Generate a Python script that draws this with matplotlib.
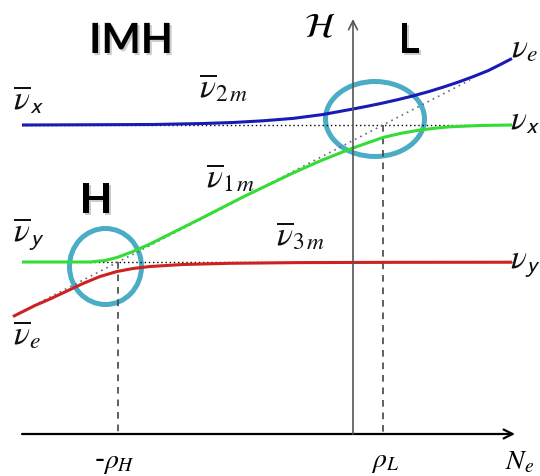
import matplotlib
matplotlib.use("Agg")
import matplotlib.pyplot as plt
import matplotlib.patheffects as pe
from matplotlib.patches import Ellipse

plt.rcParams["mathtext.fontset"] = "stix"

# Matter-potential axis (N_e) and Hamiltonian eigenvalues (arbitrary units)
nu2m_ne = [-331, -200, -150, -120, -90, -60, -30, 0, 15, 30, 45, 60, 75, 90,
           105, 120, 135, 147, 159]
nu2m_h = [309, 309.5, 310.5, 311.5, 313.2, 315.6, 319.5, 325, 327.9, 331, 334.4,
          338.1, 342.2, 346.8, 351.8, 357.3, 363.3, 369.3, 375.5]

nu1m_ne = [-331, -263, -248, -236, -220, -203, -186, -153, -110, -60, -33, -13, 0,
           17, 30, 47, 64, 82, 97, 127, 159]
nu1m_h = [172, 172, 173.5, 176.5, 182.5, 190, 198.5, 215, 237, 261, 273, 281, 286,
          292, 296.5, 300.5, 303.5, 305.8, 307.2, 308.5, 309]

nu3m_ne = [-340, -318, -303, -286, -270, -253, -236, -220, -203, -170, -123, -53, 47, 159]
nu3m_h = [117.5, 128.5, 135, 143, 150.5, 157.5, 162.5, 165.5, 167.5, 169.5, 170.7,
          171.4, 171.7, 171.8]

# Flavour (diabatic) levels
level_x = 309
level_y = 172
level_x_ne = [-331, 117]
level_y_ne = [-263, 159]
nue_ne = [-340, 117]
nue_h = [117.7, 354]

# Resonance densities
rho_H = -235
rho_L = 30

fig = plt.figure(figsize=(5.4, 4.77), dpi=100)
ax = fig.add_axes([0, 0, 1, 1])
ax.set_xlim(-353, 187)
ax.set_ylim(-42, 435)
ax.axis("off")

# axes with arrows
ax.annotate("", xy=(162, 0), xytext=(-331, 0),
            arrowprops=dict(arrowstyle="->", color="black", lw=1.6,
                            mutation_scale=16, shrinkA=0, shrinkB=0))
ax.annotate("", xy=(0, 415), xytext=(0, 0),
            arrowprops=dict(arrowstyle="->", color="#555555", lw=1.2,
                            mutation_scale=16, shrinkA=0, shrinkB=0))

# resonance markers
ax.plot([rho_H, rho_H], [level_y, 0], color="#444444", lw=1.2, ls=(0, (4, 3.5)))
ax.plot([rho_L, rho_L], [level_x, 0], color="#444444", lw=1.2, ls=(0, (4, 3.5)))

# flavour levels
ax.plot(level_x_ne, [level_x, level_x], color="black", lw=1.0, ls=(0, (1, 2)))
ax.plot(level_y_ne, [level_y, level_y], color="black", lw=1.0, ls=(0, (1, 2)))
ax.plot(nue_ne, nue_h, color="#666677", lw=1.2, ls=(0, (1, 2.5)))

# matter eigenstates
for ne, h, c in [(nu2m_ne, nu2m_h, "#1a1ab4"),
                 (nu1m_ne, nu1m_h, "#33dd33"),
                 (nu3m_ne, nu3m_h, "#cc2222")]:
    ax.plot(ne, h, color=c, lw=2.2, solid_capstyle="butt", solid_joinstyle="round")

# resonance regions
ax.add_patch(Ellipse((-247.5, 167.5), 72, 76, fill=False, ec="#4bacc6", lw=3.6))
ax.add_patch(Ellipse((22, 315), 99, 75, fill=False, ec="#4bacc6", lw=3.6))

# level labels
lab = dict(fontsize=24, ha="left", va="baseline", color="#111111")
ax.text(-340, 325, r"$\overline{\nu}_{\mathsf{x}}$", **lab)
ax.text(-340, 193, r"$\overline{\nu}_{\mathsf{y}}$", **lab)
ax.text(-340, 90, r"$\overline{\nu}_{e}$", **lab)
ax.text(-154, 337, r"$\overline{\nu}_{2\,m}$", **lab)
ax.text(-147, 247, r"$\overline{\nu}_{1\,m}$", **lab)
ax.text(-77, 189, r"$\overline{\nu}_{3\,m}$", **lab)
ax.text(158, 377, r"$\nu_{e}$", **lab)
ax.text(157, 305, r"$\nu_{\mathsf{x}}$", **lab)
ax.text(157, 167, r"$\nu_{\mathsf{y}}$", **lab)

# axis labels
ax.text(-49, 398, r"$\mathcal{H}$", fontsize=25, ha="left", va="baseline")
ax.text(rho_H - 4, -13, r"-$\rho_{H}$", fontsize=20, ha="center", va="top")
ax.text(rho_L + 2, -12, r"$\rho_{L}$", fontsize=20, ha="center", va="top")
ax.text(167, -12, r"$N_{e}$", fontsize=20, ha="center", va="top")

# region titles
shadow = [pe.withSimplePatchShadow(offset=(1.5, -1.5), shadow_rgbFace="#999999", alpha=0.5)]
title = dict(fontsize=30, fontweight="bold", family="Lato", ha="center", va="center",
             color="black", path_effects=shadow)
ax.text(-222, 393, "IMH", **title)
ax.text(56, 393, "L", **title)
ax.text(-257, 233, "H", **title)

fig.savefig("out.png", dpi=100)
